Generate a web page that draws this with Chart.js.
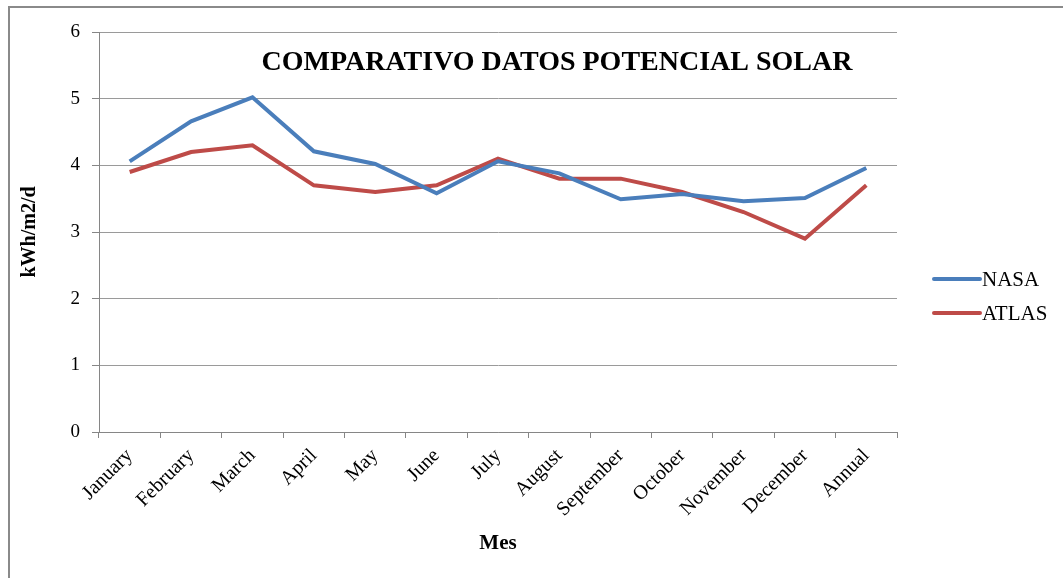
<!DOCTYPE html>
<html>
<head>
<meta charset="utf-8">
<script src="https://cdn.jsdelivr.net/npm/chart.js@4"></script>
<style>
    html, body { margin: 0; padding: 0; background: #fff; }
    #frame {
        position: absolute; left: 8px; top: 6px; width: 1100px; height: 600px;
        border-left: 2px solid #8a8a8a; border-top: 2px solid #8a8a8a;
    }
    #wrap { position: absolute; left: 0; top: 0; width: 1063px; height: 578px; }
</style>
</head>
<body>
<div id="frame"></div>
<div id="wrap"><canvas id="solarChart" width="1063" height="578"></canvas></div>
<script>
// Data
const months = ['January', 'February', 'March', 'April', 'May', 'June', 'July',
    'August', 'September', 'October', 'November', 'December', 'Annual'];
const nasaValues = [4.06, 4.66, 5.02, 4.21, 4.02, 3.58, 4.06, 3.88, 3.49, 3.57, 3.46, 3.51, 3.96];
const atlasValues = [3.9, 4.2, 4.3, 3.7, 3.6, 3.7, 4.1, 3.8, 3.8, 3.6, 3.3, 2.9, 3.7];
const yTicks = [0, 1, 2, 3, 4, 5, 6];

const COLORS = {
    nasa: '#4a7ebb',
    atlas: '#be4b48',
    grid: '#9a9a9a',
    axis: '#868686',
    text: '#000000'
};
const SERIF = '"Liberation Serif", "DejaVu Serif", serif';

// title drawn inside the plot area, legend on the right
const overlayPlugin = {
    id: 'overlay',
    afterDraw(chart) {
        const ctx = chart.ctx;
        ctx.save();
        ctx.fillStyle = COLORS.text;
        ctx.font = 'bold 28px ' + SERIF;
        ctx.textAlign = 'center';
        ctx.textBaseline = 'middle';
        ctx.fillText('COMPARATIVO DATOS POTENCIAL SOLAR', 557, 63);

        ctx.font = '21px ' + SERIF;
        ctx.textAlign = 'left';
        chart.data.datasets.forEach((ds, i) => {
            const y = 279 + i * 34;
            ctx.strokeStyle = ds.borderColor;
            ctx.lineWidth = 4;
            ctx.lineCap = 'round';
            ctx.beginPath();
            ctx.moveTo(934, y);
            ctx.lineTo(980, y);
            ctx.stroke();
            ctx.fillText(ds.label, 982, y + 1);
        });
        ctx.restore();
    }
};

const ctx = document.getElementById('solarChart').getContext('2d');
new Chart(ctx, {
    type: 'line',
    data: {
        labels: months,
        datasets: [
            { label: 'NASA', data: nasaValues, borderColor: COLORS.nasa, backgroundColor: COLORS.nasa,
              borderWidth: 4, pointRadius: 0, tension: 0 },
            { label: 'ATLAS', data: atlasValues, borderColor: COLORS.atlas, backgroundColor: COLORS.atlas,
              borderWidth: 4, pointRadius: 0, tension: 0 }
        ]
    },
    options: {
        responsive: false,
        animation: false,
        layout: { padding: { left: 0, right: 166, top: 32, bottom: 0 } },
        plugins: {
            legend: { display: false },
            tooltip: { enabled: false }
        },
        scales: {
            x: {
                offset: true,
                grid: { display: true, drawOnChartArea: false, offset: true, color: COLORS.axis, tickLength: 6 },
                border: { color: COLORS.axis, width: 1 },
                ticks: { color: COLORS.text, font: { family: SERIF, size: 20 }, minRotation: 45, maxRotation: 45, padding: 6 },
                title: { display: true, text: 'Mes', color: COLORS.text, font: { family: SERIF, size: 21, weight: 'bold' },
                         padding: { top: 0, bottom: 22 } },
                afterFit(scale) { scale.height = 578 - 432; }
            },
            y: {
                min: 0,
                max: 6,
                afterBuildTicks(scale) { scale.ticks = yTicks.map(v => ({ value: v })); },
                grid: { color: COLORS.grid, tickLength: 7, tickColor: COLORS.axis },
                border: { color: COLORS.axis, width: 1 },
                ticks: { color: COLORS.text, font: { family: SERIF, size: 19 }, padding: 12 },
                title: { display: true, text: 'kWh/m2/d', color: COLORS.text, font: { family: SERIF, size: 20, weight: 'bold' },
                         padding: { top: 18, bottom: 0 } },
                afterFit(scale) { scale.width = 99; }
            }
        }
    },
    plugins: [overlayPlugin]
});
</script>
</body>
</html>
